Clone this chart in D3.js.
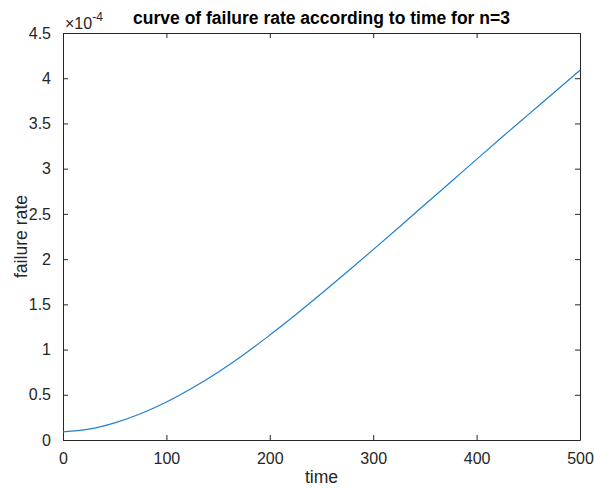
<!DOCTYPE html>
<html>
<head>
<meta charset="utf-8">
<script src="https://cdn.jsdelivr.net/npm/d3@7"></script>
<style>
  body { margin: 0; background: #fff; }
  svg { display: block; font-family: "Liberation Sans", Arial, sans-serif; }
  .tick text { fill: #262626; font-size: 16px; }
</style>
</head>
<body>
<div id="chart"></div>
<script>
// time values (x) and failure rate in units of 1e-4 (y)
const times = [0, 25, 50, 75, 100, 125, 150, 175, 200, 225, 250, 275, 300, 325, 350, 375, 400, 425, 450, 475, 500];
const rates = [0.09, 0.12, 0.19, 0.29, 0.42, 0.575, 0.75, 0.945, 1.16, 1.385, 1.62, 1.86, 2.105, 2.353, 2.603, 2.853, 3.103, 3.353, 3.598, 3.843, 4.088];
const xTicks = [0, 100, 200, 300, 400, 500];
const yTicks = [0, 0.5, 1, 1.5, 2, 2.5, 3, 3.5, 4, 4.5];

const width = 594, height = 488;
const margin = { top: 33, right: 14, bottom: 48, left: 63 };
const innerW = width - margin.left - margin.right;
const innerH = height - margin.top - margin.bottom;
const axisColor = "#262626";

const svg = d3.select("#chart").append("svg")
    .attr("width", width)
    .attr("height", height);

const g = svg.append("g")
    .attr("transform", `translate(${margin.left},${margin.top})`);

const x = d3.scaleLinear().domain([0, 500]).range([0, innerW]);
const y = d3.scaleLinear().domain([0, 4.5]).range([innerH, 0]);

// bottom and left axes with inward ticks
const xAxis = g.append("g")
    .attr("transform", `translate(0,${innerH})`)
    .call(d3.axisBottom(x).tickValues(xTicks).tickSizeInner(-5).tickSizeOuter(0).tickPadding(13));
const yAxis = g.append("g")
    .call(d3.axisLeft(y).tickValues(yTicks).tickFormat(d3.format("")).tickSizeInner(-5).tickSizeOuter(0).tickPadding(12));

// top and right (box) with inward ticks, no labels
const xTop = g.append("g")
    .call(d3.axisTop(x).tickValues(xTicks).tickSizeInner(-5).tickSizeOuter(0).tickFormat(""));
const yRight = g.append("g")
    .attr("transform", `translate(${innerW},0)`)
    .call(d3.axisRight(y).tickValues(yTicks).tickSizeInner(-5).tickSizeOuter(0).tickFormat(""));

[xAxis, yAxis, xTop, yRight].forEach(a => {
    a.selectAll(".domain").attr("stroke", axisColor);
    a.selectAll(".tick line").attr("stroke", axisColor);
});

// the curve
const points = times.map((t, i) => [t, rates[i]]);
const line = d3.line()
    .x(d => x(d[0]))
    .y(d => y(d[1]))
    .curve(d3.curveMonotoneX);

g.append("path")
    .datum(points)
    .attr("fill", "none")
    .attr("stroke", "#1f80d0")
    .attr("stroke-width", 1.2)
    .attr("d", line);

// exponent label
const expo = svg.append("text")
    .attr("x", margin.left + 2)
    .attr("y", 29)
    .attr("fill", axisColor)
    .style("font-size", "16px");
expo.append("tspan").text("\u00d710");
expo.append("tspan").attr("dy", -8).style("font-size", "12px").text("-4");

// title
svg.append("text")
    .attr("x", margin.left + innerW / 2)
    .attr("y", 24)
    .attr("text-anchor", "middle")
    .attr("fill", "#000")
    .style("font-size", "17.5px")
    .style("font-weight", "bold")
    .text("curve of failure rate according to time for n=3");

// axis labels
svg.append("text")
    .attr("x", margin.left + innerW / 2)
    .attr("y", 483)
    .attr("text-anchor", "middle")
    .attr("fill", axisColor)
    .style("font-size", "17.6px")
    .text("time");

svg.append("text")
    .attr("transform", `translate(27,${margin.top + innerH / 2}) rotate(-90)`)
    .attr("text-anchor", "middle")
    .attr("fill", axisColor)
    .style("font-size", "17.6px")
    .text("failure rate");
</script>
</body>
</html>
